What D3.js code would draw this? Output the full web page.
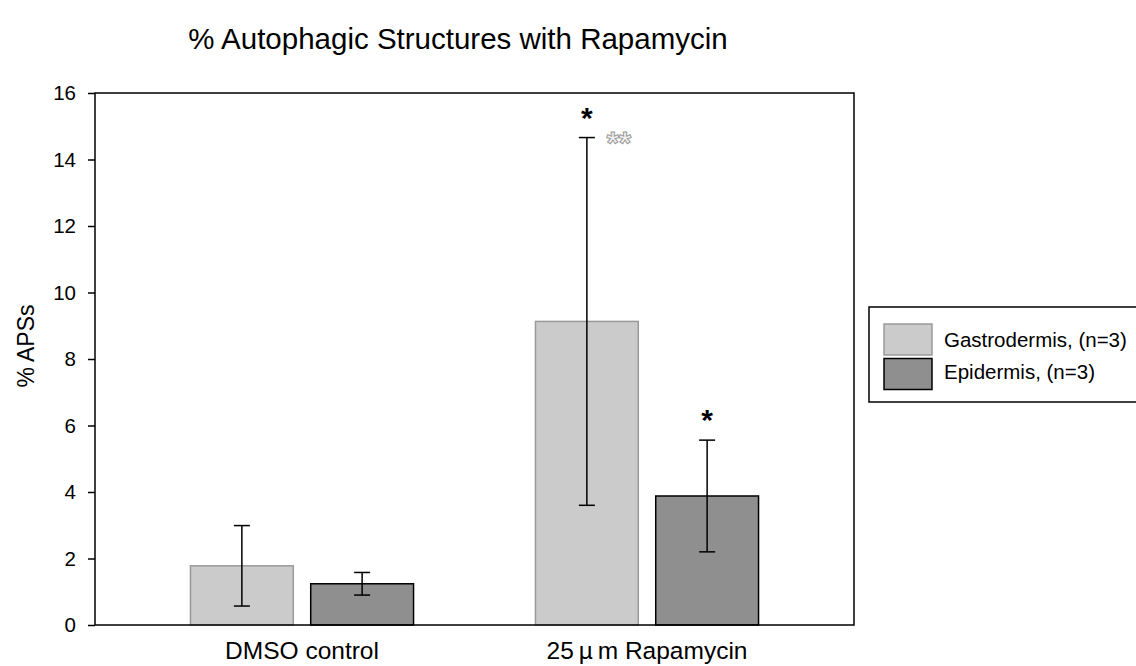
<!DOCTYPE html>
<html>
<head>
<meta charset="utf-8">
<script src="https://cdn.jsdelivr.net/npm/d3@7"></script>
<style>
  body { margin: 0; background: #fff; }
  svg text { font-family: 'Liberation Sans', Arial, sans-serif; }
</style>
</head>
<body>
<div id="chart-container"></div>
<script>
// % autophagic structures bar chart (grouped, with error bars)
const categories = ['DMSO control', '25\u2009\u00b5\u2009m Rapamycin'];
const seriesNames = ['Gastrodermis, (n=3)', 'Epidermis, (n=3)'];
const gastroMeans = [1.78, 9.13];
const gastroErr = [1.21, 5.53];
const epiMeans = [1.24, 3.88];
const epiErr = [0.34, 1.68];
const yTicks = [0, 2, 4, 6, 8, 10, 12, 14, 16];
// significance marks: category index, series index, label, style
const marks = [
  { cat: 1, ser: 0, label: '*', gray: false },
  { cat: 1, ser: 0, label: '**', gray: true },
  { cat: 1, ser: 1, label: '*', gray: false }
];

const svgWidth = 1136;
const svgHeight = 666;
const plotLeft = 95, plotRight = 854, plotTop = 93, plotBottom = 625;

const fills = ['#cbcbcb', '#8f8f8f'];
const strokes = ['#9a9a9a', '#000'];

const rows = [];
categories.forEach(function (c, i) {
  rows.push({ cat: c, ser: seriesNames[0], si: 0, mean: gastroMeans[i], err: gastroErr[i] });
  rows.push({ cat: c, ser: seriesNames[1], si: 1, mean: epiMeans[i], err: epiErr[i] });
});

const svg = d3
  .select('#chart-container')
  .append('svg')
  .attr('width', svgWidth)
  .attr('height', svgHeight);

const x0 = d3.scaleBand().domain(categories).range([plotLeft, plotRight]).padding(0.2);
const x1 = d3
  .scaleBand()
  .domain(seriesNames)
  .range([0, x0.bandwidth()])
  .paddingInner(0.145)
  .paddingOuter(0.22);
const y = d3.scaleLinear().domain([0, 16]).range([plotBottom, plotTop]);

// title
svg
  .append('text')
  .attr('x', 458)
  .attr('y', 49)
  .attr('text-anchor', 'middle')
  .style('font-size', '29.5px')
  .text('% Autophagic Structures with Rapamycin');

// bars
svg
  .selectAll('rect.bar')
  .data(rows)
  .enter()
  .append('rect')
  .attr('class', 'bar')
  .attr('x', (d) => x0(d.cat) + x1(d.ser))
  .attr('y', (d) => y(d.mean))
  .attr('width', x1.bandwidth())
  .attr('height', (d) => y(0) - y(d.mean))
  .attr('fill', (d) => fills[d.si])
  .attr('stroke', (d) => strokes[d.si])
  .attr('stroke-width', 1.5);

// error bars
const eb = svg.selectAll('g.err').data(rows).enter().append('g').attr('class', 'err');
const cx = (d) => x0(d.cat) + x1(d.ser) + x1.bandwidth() / 2;
eb.append('line')
  .attr('x1', cx).attr('x2', cx)
  .attr('y1', (d) => y(d.mean + d.err))
  .attr('y2', (d) => y(d.mean - d.err));
eb.append('line')
  .attr('x1', (d) => cx(d) - 8).attr('x2', (d) => cx(d) + 8)
  .attr('y1', (d) => y(d.mean + d.err)).attr('y2', (d) => y(d.mean + d.err));
eb.append('line')
  .attr('x1', (d) => cx(d) - 8).attr('x2', (d) => cx(d) + 8)
  .attr('y1', (d) => y(d.mean - d.err)).attr('y2', (d) => y(d.mean - d.err));
eb.selectAll('line').attr('stroke', '#000').attr('stroke-width', 1.5);

// frame
svg
  .append('rect')
  .attr('x', plotLeft)
  .attr('y', plotTop)
  .attr('width', plotRight - plotLeft)
  .attr('height', plotBottom - plotTop)
  .attr('fill', 'none')
  .attr('stroke', '#000')
  .attr('stroke-width', 1.5);

// y axis
const yAxis = d3.axisLeft(y).tickValues(yTicks).tickSize(7).tickPadding(12);
svg
  .append('g')
  .attr('transform', 'translate(' + plotLeft + ',0)')
  .call(yAxis)
  .call((g) => g.select('.domain').remove())
  .call((g) => g.selectAll('line').attr('stroke-width', 1.5))
  .selectAll('text')
  .style('font-size', '20.5px')
  .style('font-family', "'Liberation Sans', Arial, sans-serif")
  .attr('fill', '#000');

// x labels
svg
  .selectAll('text.xlab')
  .data(categories)
  .enter()
  .append('text')
  .attr('class', 'xlab')
  .attr('x', (d) => x0(d) + x0.bandwidth() / 2)
  .attr('y', 659)
  .attr('text-anchor', 'middle')
  .style('font-size', '24.5px')
  .text((d) => d);

// y label
svg
  .append('text')
  .attr('transform', 'translate(34,346) rotate(-90)')
  .attr('text-anchor', 'middle')
  .style('font-size', '23px')
  .text('% APSs');

// significance marks
const findRow = (m) => rows.find((r) => r.cat === categories[m.cat] && r.si === m.ser);
svg
  .selectAll('text.sig')
  .data(marks)
  .enter()
  .append('text')
  .attr('class', 'sig')
  .attr('x', (m) => cx(findRow(m)) + (m.gray ? 32 : 0))
  .attr('y', (m) => {
    const r = findRow(m);
    return y(r.mean + r.err) + (m.gray ? 16 : -10);
  })
  .attr('text-anchor', 'middle')
  .style('font-size', (m) => (m.gray ? '32px' : '30px'))
  .style('font-weight', 'bold')
  .attr('fill', (m) => (m.gray ? '#f2f2f2' : '#000'))
  .attr('stroke', (m) => (m.gray ? '#9a9a9a' : 'none'))
  .attr('stroke-width', 1)
  .text((m) => m.label);

// legend
const legend = svg.append('g');
legend
  .append('rect')
  .attr('x', 869)
  .attr('y', 307)
  .attr('width', 300)
  .attr('height', 95)
  .attr('fill', '#fff')
  .attr('stroke', '#000')
  .attr('stroke-width', 1.5);
seriesNames.forEach(function (s, i) {
  legend
    .append('rect')
    .attr('x', 884)
    .attr('y', 324 + i * 34.5)
    .attr('width', 48)
    .attr('height', 31)
    .attr('fill', fills[i])
    .attr('stroke', strokes[i])
    .attr('stroke-width', 1.5);
  legend
    .append('text')
    .attr('x', 944)
    .attr('y', 347 + i * 31.5)
    .style('font-size', '20.5px')
    .text(s);
});
</script>
</body>
</html>
